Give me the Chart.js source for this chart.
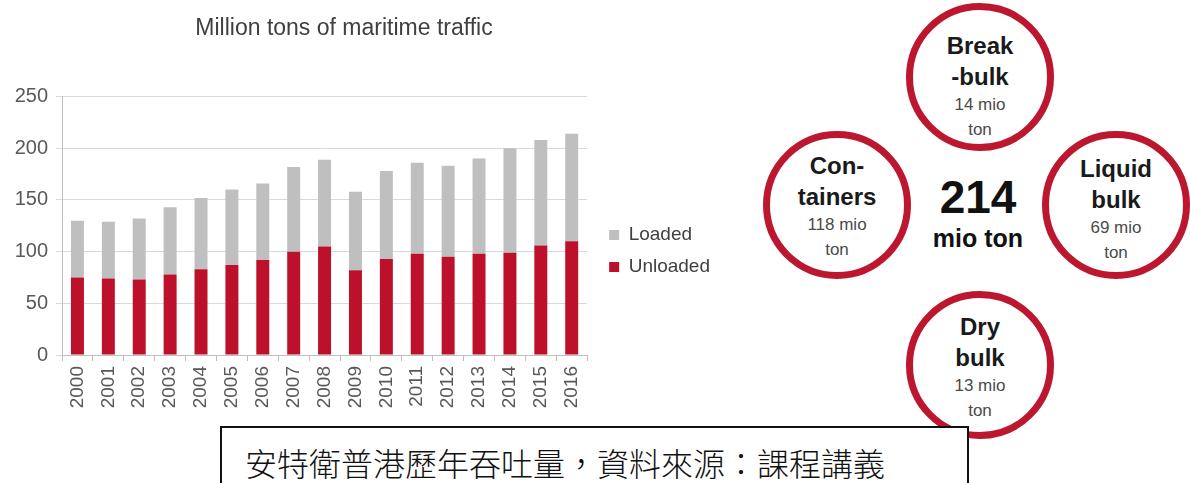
<!DOCTYPE html>
<html>
<head>
<meta charset="utf-8">
<script src="https://cdn.jsdelivr.net/npm/chart.js@4.4.1/dist/chart.umd.min.js"></script>
<style>
  html, body { margin: 0; padding: 0; background: #fff; }
  body { width: 1190px; height: 483px; overflow: hidden; position: relative; font-family: "Liberation Sans", Arial, sans-serif; }
  #chartWrap { position: absolute; left: -32px; top: 0; width: 752px; height: 502px; }
  .ring { position: absolute; width: 134px; height: 134px; border: 7px solid #bd1730; border-radius: 50%;
          display: flex; flex-direction: column; align-items: center; justify-content: center; text-align: center; }
  .ring .txt { position: relative; }
  .big { font-weight: bold; font-size: 24px; line-height: 31px; color: #1a1a1a; }
  .small { font-size: 17px; line-height: 25px; color: #4a4a4a; }
  #total { position: absolute; left: 880px; width: 196px; text-align: center; font-weight: bold; color: #111; }
  #caption { position: absolute; left: 220px; top: 426px; width: 722px; height: 80px; border: 2px solid #111;
             background: #fff; padding: 14px 0 0 23px; font-family: "Noto Sans CJK TC", sans-serif; font-weight: 300;
             font-size: 32px; line-height: 40px; color: #111; z-index: 2; }
</style>
</head>
<body>
<div id="chartWrap"><canvas id="trafficChart" width="752" height="502"></canvas></div>

<div class="ring" style="left:906px; top:3px;"><div class="txt" style="top:9px;">
  <div class="big">Break</div><div class="big">-bulk</div><div class="small">14 mio</div><div class="small">ton</div></div></div>
<div class="ring" style="left:763px; top:131px;"><div class="txt" style="top:1px;">
  <div class="big">Con-</div><div class="big">tainers</div><div class="small">118 mio</div><div class="small">ton</div></div></div>
<div class="ring" style="left:1042px; top:131px;"><div class="txt" style="top:4px;">
  <div class="big">Liquid</div><div class="big">bulk</div><div class="small">69 mio</div><div class="small">ton</div></div></div>
<div class="ring" style="left:906px; top:291px;"><div class="txt" style="top:2px;">
  <div class="big">Dry</div><div class="big">bulk</div><div class="small">13 mio</div><div class="small">ton</div></div></div>

<div id="total" style="top:172px; font-size:46px; line-height:50px;">214</div>
<div id="total2" style="position:absolute; left:880px; width:196px; top:223px; text-align:center; font-weight:bold; font-size:25px; line-height:30px; color:#111;">mio ton</div>

<div id="caption">安特衛普港歷年吞吐量，資料來源：課程講義</div>

<script>
// data (million tons)
const years = ['2000', '2001', '2002', '2003', '2004', '2005', '2006', '2007', '2008',
               '2009', '2010', '2011', '2012', '2013', '2014', '2015', '2016'];
const unloaded = [75, 74, 73, 78, 83, 87, 92, 100, 105, 82, 93, 98, 95, 98, 99, 106, 110];
const loaded = [55, 55, 59, 65, 69, 73, 74, 82, 84, 76, 85, 88, 88, 92, 101, 102, 104];
const yMin = 0, yMax = 250, yStep = 50;

Chart.defaults.font.family = '"Liberation Sans", Arial, sans-serif';

const trafficChart = new Chart(document.getElementById('trafficChart').getContext('2d'), {
    type: 'bar',
    data: {
        labels: years,
        datasets: [
            {
                label: 'Unloaded',
                data: unloaded,
                backgroundColor: '#bd102b',
                categoryPercentage: 1,
                barPercentage: 0.42
            },
            {
                label: 'Loaded',
                data: loaded,
                backgroundColor: '#bfbfbf',
                categoryPercentage: 1,
                barPercentage: 0.42
            }
        ]
    },
    options: {
        responsive: false,
        animation: false,
        layout: { padding: 0 },
        plugins: {
            title: {
                display: true,
                text: 'Million tons of maritime traffic',
                color: '#404040',
                font: { size: 23, weight: 'normal' },
                padding: { top: 15, bottom: 54 }
            },
            legend: {
                position: 'right',
                align: 'center',
                reverse: true,
                labels: {
                    boxWidth: 10,
                    boxHeight: 10,
                    padding: 13,
                    color: '#404040',
                    font: { size: 19 }
                }
            },
            tooltip: { enabled: false }
        },
        scales: {
            x: {
                stacked: true,
                grid: { drawOnChartArea: false, tickLength: 6, color: '#bfbfbf' },
                border: { color: '#bfbfbf' },
                ticks: { minRotation: 90, maxRotation: 90, autoSkip: false, padding: 5, color: '#595959', font: { size: 19 } },
                afterFit: function (scale) { scale.height = 147; }
            },
            y: {
                stacked: true,
                min: yMin,
                max: yMax,
                ticks: { stepSize: yStep, padding: 8, color: '#595959', font: { size: 20 } },
                grid: { color: '#d9d9d9', tickLength: 6 },
                border: { color: '#bfbfbf' },
                afterFit: function (scale) { scale.width = 94; }
            },
            // empty spacer so the legend sits a little away from the plot
            spacer: {
                type: 'linear',
                position: 'right',
                grid: { display: false },
                ticks: { display: false },
                border: { display: false },
                afterFit: function (scale) { scale.width = 9; }
            }
        }
    }
});
</script>
</body>
</html>
